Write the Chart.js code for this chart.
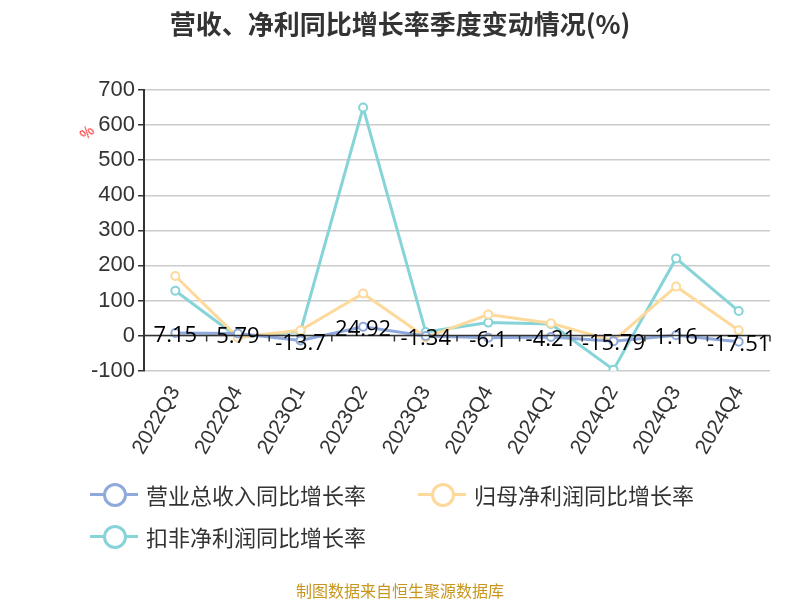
<!DOCTYPE html><html><head><meta charset="utf-8">
<script src="https://cdn.jsdelivr.net/npm/chart.js@4"></script>
<style>body{margin:0;width:800px;height:600px;position:relative;font-family:"Noto Sans CJK SC","Noto Sans",sans-serif;background:#fff}
#t{position:absolute;top:4px;width:800px;text-align:center;font-size:26px;font-weight:bold;color:#333}
.lg{position:absolute;font-size:22px;color:#333;display:flex;align-items:center}
.ic{position:relative;width:48px;height:24px;margin-right:8px}
.ic i{position:absolute;left:0;top:11px;width:48px;height:3px}
.ic b{position:absolute;left:13px;top:1px;width:18px;height:18px;border-radius:50%;border:3px solid;background:#fff}
#s{position:absolute;top:578px;width:800px;text-align:center;font-size:16px;color:#c8961e}
#u{position:absolute;left:80px;top:122px;color:red;font-size:14px;transform:rotate(-45deg)}
</style></head><body>
<div id="t">营收、净利同比增长率季度变动情况(%)</div>
<canvas id="c" width="800" height="600"></canvas>
<div id="u">%</div>
<div class="lg" style="left:90px;top:478px"><span class="ic"><i style="background:#8fa9dc"></i><b style="border-color:#8fa9dc"></b></span>营业总收入同比增长率</div>
<div class="lg" style="left:418px;top:478px"><span class="ic"><i style="background:#fdd99b"></i><b style="border-color:#fdd99b"></b></span>归母净利润同比增长率</div>
<div class="lg" style="left:90px;top:520px"><span class="ic"><i style="background:#86d4d8"></i><b style="border-color:#86d4d8"></b></span>扣非净利润同比增长率</div>
<div id="s">制图数据来自恒生聚源数据库</div>
<script>
const categories=["2022Q3","2022Q4","2023Q1","2023Q2","2023Q3","2023Q4","2024Q1","2024Q2","2024Q3","2024Q4"];
const revenue=[7.15,5.79,-13.7,24.92,-1.34,-6.1,-4.21,-15.79,1.16,-17.51];
const netProfit=[170,-5,15,120,-5,60,35,-15,140,15];
const deducted=[128,-5,12,650,10,37,33,-97,220,70];
const yTicks=[-100,0,100,200,300,400,500,600,700];
const ds=(d,c)=>({data:d,borderColor:c,backgroundColor:'#fff',borderWidth:3,pointRadius:4,pointBorderWidth:2,pointBackgroundColor:'#fff',tension:0});
const zeroPlugin={id:'z',afterDatasetsDraw(ch){const{ctx,scales:{x,y}}=ch;const y0=y.getPixelForValue(0);ctx.save();ctx.strokeStyle='#333';ctx.lineWidth=1.5;ctx.beginPath();ctx.moveTo(x.left,y0);ctx.lineTo(x.right,y0);const w=(x.right-x.left)/categories.length;for(let i=1;i<=categories.length;i++){const px=x.left+w*i;ctx.moveTo(px,y0);ctx.lineTo(px,y0+6);}ctx.stroke();
const m=ch.getDatasetMeta(0);ctx.fillStyle='#000';ctx.font='22px "Open Sans","Noto Sans",sans-serif';ctx.textAlign='center';ctx.textBaseline='bottom';m.data.forEach((p,i)=>ctx.fillText(revenue[i],p.x,p.y+14));ctx.restore();}};
new Chart(document.getElementById('c'),{type:'line',data:{labels:categories,datasets:[ds(deducted,'#86d4d8'),ds(netProfit,'#fdd99b'),ds(revenue,'#8fa9dc')].reverse()},
options:{responsive:false,animation:false,layout:{padding:{top:90,right:30,left:88,bottom:138}},plugins:{legend:{display:false},tooltip:{enabled:false}},
scales:{x:{offset:true,grid:{display:false},border:{display:false},ticks:{color:'#333',font:{size:21},maxRotation:60,minRotation:60}},
y:{min:-100,max:700,afterBuildTicks(a){a.ticks=yTicks.map(v=>({value:v}))},border:{color:'#333',width:2},grid:{color:'#ccc',lineWidth:1.5,tickLength:6,drawTicks:true,tickColor:'#333'},ticks:{color:'#333',font:{size:22}}}}},
plugins:[zeroPlugin,{id:'dash',beforeDraw(ch){ch.options.scales.y.border.dash=[]; }}]});
</script></body></html>
